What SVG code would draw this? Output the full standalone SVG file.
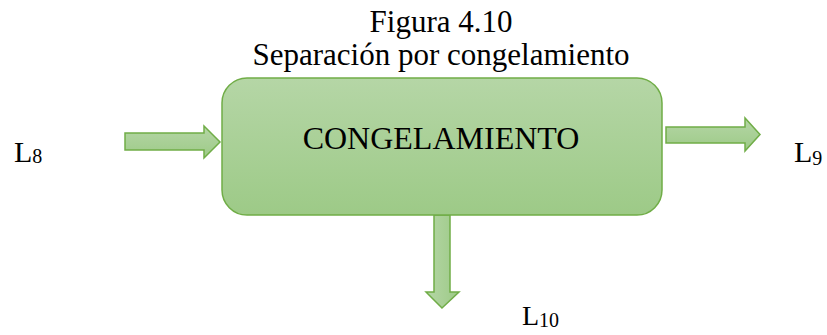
<svg xmlns="http://www.w3.org/2000/svg" width="827" height="335" viewBox="0 0 827 335">
<defs>
<linearGradient id="gv" x1="0" y1="0" x2="0" y2="1">
<stop offset="0" stop-color="#b5d6a6"/>
<stop offset="1" stop-color="#9dca87"/>
</linearGradient>
<linearGradient id="gh" x1="0" y1="0" x2="1" y2="0">
<stop offset="0" stop-color="#b5d6a6"/>
<stop offset="1" stop-color="#9dca87"/>
</linearGradient>
</defs>
<style>
text{font-family:'Liberation Serif','Tinos','Times New Roman','DejaVu Serif',serif;fill:#000}
.shape{stroke:#70ad47;stroke-width:1.5}
</style>
<rect width="827" height="335" fill="#fff"/>
<g id="title">
<text x="441" y="32" font-size="31" text-anchor="middle">Figura 4.10</text>
<text x="441" y="65" font-size="31" text-anchor="middle">Separación por congelamiento</text>
</g>
<g id="connectors">
<polygon class="shape" fill="url(#gv)" points="125,133 204,133 204,126 220,142 204,158 204,150 125,150"/>
<polygon class="shape" fill="url(#gv)" points="666,127 745,127 745,118 760,134.5 745,151 745,143 666,143"/>
<polygon class="shape" fill="url(#gh)" points="434,215 450,215 450,292 459,292 442,308 426,292 434,292"/>
</g>
<g id="congelamiento">
<rect class="shape" x="222" y="78" width="440" height="137" rx="25" ry="25" fill="url(#gv)"/>
<text x="441" y="149" font-size="32" text-anchor="middle">CONGELAMIENTO</text>
</g>
<g id="L8">
<text x="14" y="162" font-size="30">L<tspan font-size="20" dy="1">8</tspan></text>
</g>
<g id="L9">
<text x="794" y="162" font-size="30">L<tspan font-size="20" dy="3">9</tspan></text>
</g>
<g id="L10">
<text x="522" y="325" font-size="28">L<tspan font-size="20" dy="2">10</tspan></text>
</g>
</svg>
